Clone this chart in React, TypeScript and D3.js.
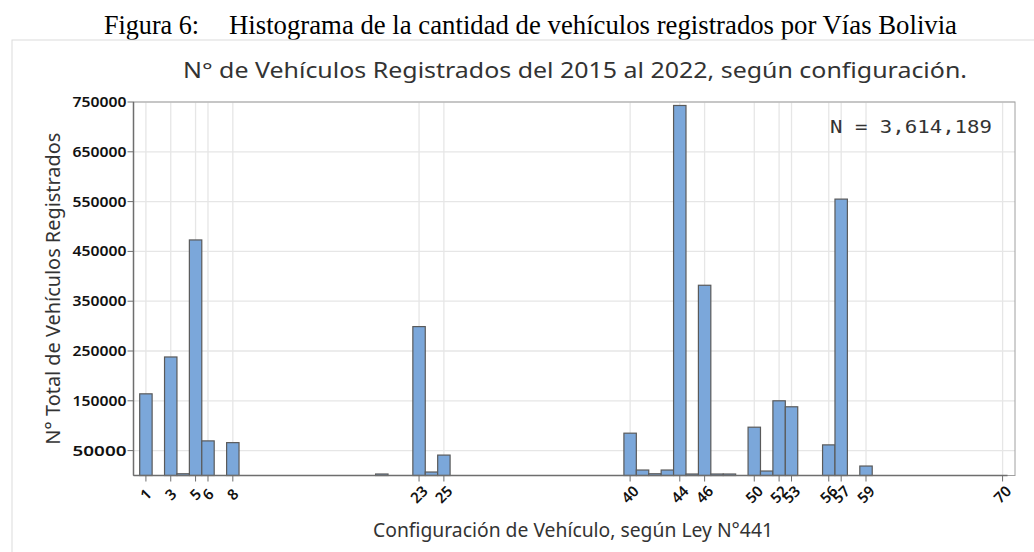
import React from "react";
import * as d3 from "d3";

const configs = [1, 3, 4, 5, 6, 8, 20, 23, 24, 25, 40, 41, 42, 43, 44, 45, 46, 47, 48, 50, 51, 52, 53, 56, 57, 59];
const counts = [164000, 238000, 3500, 473000, 69500, 66000, 3000, 299000, 7000, 41000, 85000, 11000, 3500, 11000, 743000, 3000, 382000, 3000, 3000, 97000, 9000, 150000, 138000, 61500, 555000, 19000];
const xTicks = [1, 3, 5, 6, 8, 23, 25, 40, 44, 46, 50, 52, 53, 56, 57, 59, 70];
const yTicks = [50000, 150000, 250000, 350000, 450000, 550000, 650000, 750000];

const W = 1034, H = 552;
const L = 133.5, R = 1015, T = 102, B = 475.5;

export default function App() {
  const x = d3.scaleLinear().domain([0, 71]).range([L, R]);
  const y = d3.scaleLinear().domain([0, 750000]).range([B, T]);
  const bw = x(1) - x(0);
  const sans = "'Noto Sans', 'Open Sans', sans-serif";
  const serif = "'Liberation Serif', 'Times New Roman', serif";
  return (
    <div style={{ position: "fixed", left: 0, top: 0 }}>
      <svg width={W} height={H} style={{ display: "block", background: "#fff" }}>
        <text x={104} y={34} fontFamily={serif} fontSize={27} fill="#000" textLength={95} lengthAdjust="spacingAndGlyphs">Figura 6:</text>
        <text x={229} y={34} fontFamily={serif} fontSize={27} fill="#000" textLength={728} lengthAdjust="spacingAndGlyphs">Histograma de la cantidad de vehículos registrados por Vías Bolivia</text>
        <rect x={12} y={40} width={1040} height={530} fill="none" stroke="#dcdcdc" strokeWidth={1} />
        <text x={575} y={78} textAnchor="middle" fontFamily={sans} fontSize={21} fill="#333" textLength={784} lengthAdjust="spacingAndGlyphs">N° de Vehículos Registrados del 2015 al 2022, según configuración.</text>
        {/* grid */}
        {xTicks.map(t => (
          <line key={"gx" + t} x1={x(t)} x2={x(t)} y1={T} y2={B} stroke="#e6e6e6" strokeWidth={1.3} />
        ))}
        {yTicks.map(t => (
          <line key={"gy" + t} x1={L} x2={R} y1={y(t)} y2={y(t)} stroke="#e6e6e6" strokeWidth={1.3} />
        ))}
        {/* frame */}
        <rect x={L} y={T} width={R - L} height={B - T} fill="none" stroke="#a0a0a0" strokeWidth={1} />
        {/* bars */}
        {configs.map((c, i) => (
          <rect key={"b" + c} x={x(c - 0.5)} y={y(counts[i])} width={bw} height={B - y(counts[i])} fill="#7ba7da" stroke="#5a5a5a" strokeWidth={1.2} />
        ))}
        {/* axes */}
        <line x1={L} x2={L} y1={T} y2={B} stroke="#6e6e6e" strokeWidth={1.5} />
        <line x1={L} x2={x(70.4)} y1={B} y2={B} stroke="#6e6e6e" strokeWidth={1.5} />
        {yTicks.map(t => (
          <g key={"yt" + t}>
            <line x1={L - 6} x2={L} y1={y(t)} y2={y(t)} stroke="#6e6e6e" strokeWidth={1} />
            <text x={L - 7} y={y(t)} dy="0.35em" textAnchor="end" fontFamily={sans} fontSize={14.5} fontWeight={600} fill="#111" textLength={54} lengthAdjust="spacingAndGlyphs">{t}</text>
          </g>
        ))}
        {xTicks.map(t => (
          <g key={"xt" + t}>
            <line x1={x(t)} x2={x(t)} y1={B} y2={B + 6} stroke="#6e6e6e" strokeWidth={1} />
            <text transform={`translate(${x(t)},${B + 19}) rotate(-45)`} textAnchor="middle" dy="0.35em" fontFamily={sans} fontSize={15} fontWeight={600} fill="#111">{t}</text>
          </g>
        ))}
        <text transform={`translate(60,${(T + B) / 2}) rotate(-90)`} textAnchor="middle" fontFamily={sans} fontSize={20} fill="#333" textLength={312} lengthAdjust="spacingAndGlyphs">N° Total de Vehículos Registrados</text>
        <text x={573} y={537} textAnchor="middle" fontFamily={sans} fontSize={19} fill="#333" textLength={400} lengthAdjust="spacingAndGlyphs">Configuración de Vehículo, según Ley N°441</text>
        <text x={830} y={133} fontFamily="'DejaVu Sans Mono', 'Liberation Mono', monospace" fontSize={18} fill="#333" textLength={162} lengthAdjust="spacingAndGlyphs">N = 3,614,189</text>
      </svg>
    </div>
  );
}
